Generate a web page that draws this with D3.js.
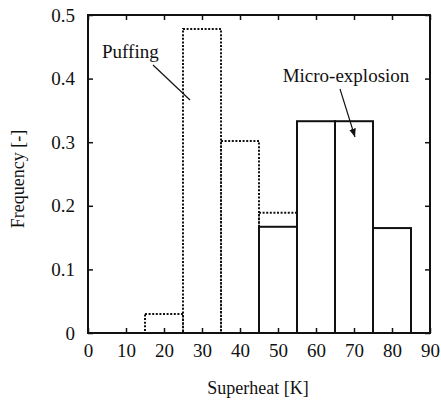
<!DOCTYPE html>
<html>
<head>
<meta charset="utf-8">
<script src="https://cdn.jsdelivr.net/npm/d3@7"></script>
<style>
  body { margin: 0; background: #fff; }
</style>
</head>
<body>
<svg id="chart" width="441" height="400"></svg>
<script>
// bin edges [K] and frequencies
const puffingBins = [15, 25, 35, 45];
const puffingFreq = [0.03, 0.478, 0.302, 0.189];
const microBins = [45, 55, 65, 75];
const microFreq = [0.167, 0.333, 0.333, 0.165];
const binWidth = 10;
const xTicks = [0, 10, 20, 30, 40, 50, 60, 70, 80, 90];
const yTicks = [0, 0.1, 0.2, 0.3, 0.4, 0.5];

const FONT = "Liberation Serif, Tinos, Times New Roman, Noto Serif, DejaVu Serif, serif";
const ink = '#111';

const svg = d3.select('#chart')
    .attr('font-family', FONT);
const margin = { left: 88, right: 11, top: 15, bottom: 67 };
const W = 441, H = 400;

const x = d3.scaleLinear().domain([0, 90]).range([margin.left, W - margin.right]);
const y = d3.scaleLinear().domain([0, 0.5]).range([H - margin.bottom, margin.top]);

// histogram bars
const drawBars = (bins, freq, dash) => {
    svg.append('g')
        .selectAll('rect')
        .data(bins.map((b, i) => ({ b, f: freq[i] })))
        .join('rect')
        .attr('x', d => x(d.b))
        .attr('y', d => y(d.f))
        .attr('width', d => x(d.b + binWidth) - x(d.b))
        .attr('height', d => y(0) - y(d.f))
        .attr('fill', 'none')
        .attr('stroke', ink)
        .attr('stroke-width', 2)
        .attr('stroke-dasharray', dash);
};
drawBars(puffingBins, puffingFreq, '2,1.6');
drawBars(microBins, microFreq, null);

// axes with inward ticks on all four sides
const axisStyle = g => {
    g.attr('font-family', FONT).attr('font-size', 19);
    g.select('.domain').remove();
    g.selectAll('line').attr('stroke', ink).attr('stroke-width', 1.5);
    g.selectAll('text').attr('fill', ink);
};
svg.append('g').attr('transform', `translate(0,${y(0)})`)
    .call(d3.axisBottom(x).tickValues(xTicks).tickSize(-5).tickPadding(11).tickFormat(d3.format('d')))
    .call(axisStyle);
svg.append('g').attr('transform', `translate(0,${y(0.5)})`)
    .call(d3.axisTop(x).tickValues(xTicks).tickSize(-5).tickFormat(''))
    .call(axisStyle);
svg.append('g').attr('transform', `translate(${x(0)},0)`)
    .call(d3.axisLeft(y).tickValues(yTicks).tickSize(-5).tickPadding(13)
        .tickFormat(d => d === 0 ? '0' : d3.format('.1f')(d)))
    .call(axisStyle);
svg.append('g').attr('transform', `translate(${x(90)},0)`)
    .call(d3.axisRight(y).tickValues(yTicks).tickSize(-5).tickFormat(''))
    .call(axisStyle);

// frame
svg.append('rect')
    .attr('x', x(0)).attr('y', y(0.5))
    .attr('width', x(90) - x(0)).attr('height', y(0) - y(0.5))
    .attr('fill', 'none').attr('stroke', ink).attr('stroke-width', 2);

// axis titles
svg.append('text')
    .attr('x', 258).attr('y', 394)
    .attr('text-anchor', 'middle').attr('font-size', 18).attr('fill', ink)
    .text('Superheat [K]');
svg.append('text')
    .attr('transform', `translate(24,${y(0.25) + 5}) rotate(-90)`)
    .attr('text-anchor', 'middle').attr('font-size', 18).attr('fill', ink)
    .text('Frequency [-]');

// annotations
const defs = svg.append('defs');
defs.append('marker')
    .attr('id', 'arrow')
    .attr('viewBox', '0 -5 10 10')
    .attr('refX', 10).attr('refY', 0)
    .attr('markerWidth', 7).attr('markerHeight', 7)
    .attr('orient', 'auto')
    .append('path')
    .attr('d', 'M0,-4L10,0L0,4')
    .attr('fill', ink);

svg.append('text')
    .attr('x', 102).attr('y', 58).attr('font-size', 19).attr('fill', ink)
    .text('Puffing');
svg.append('line')
    .attr('x1', 153).attr('y1', 65).attr('x2', 190).attr('y2', 100)
    .attr('stroke', ink).attr('stroke-width', 1.2);

svg.append('text')
    .attr('x', 346).attr('y', 82).attr('text-anchor', 'middle')
    .attr('font-size', 19).attr('fill', ink)
    .text('Micro-explosion');
svg.append('line')
    .attr('x1', 340).attr('y1', 89).attr('x2', 355).attr('y2', 137)
    .attr('stroke', ink).attr('stroke-width', 1.2)
    .attr('marker-end', 'url(#arrow)');
</script>
</body>
</html>
